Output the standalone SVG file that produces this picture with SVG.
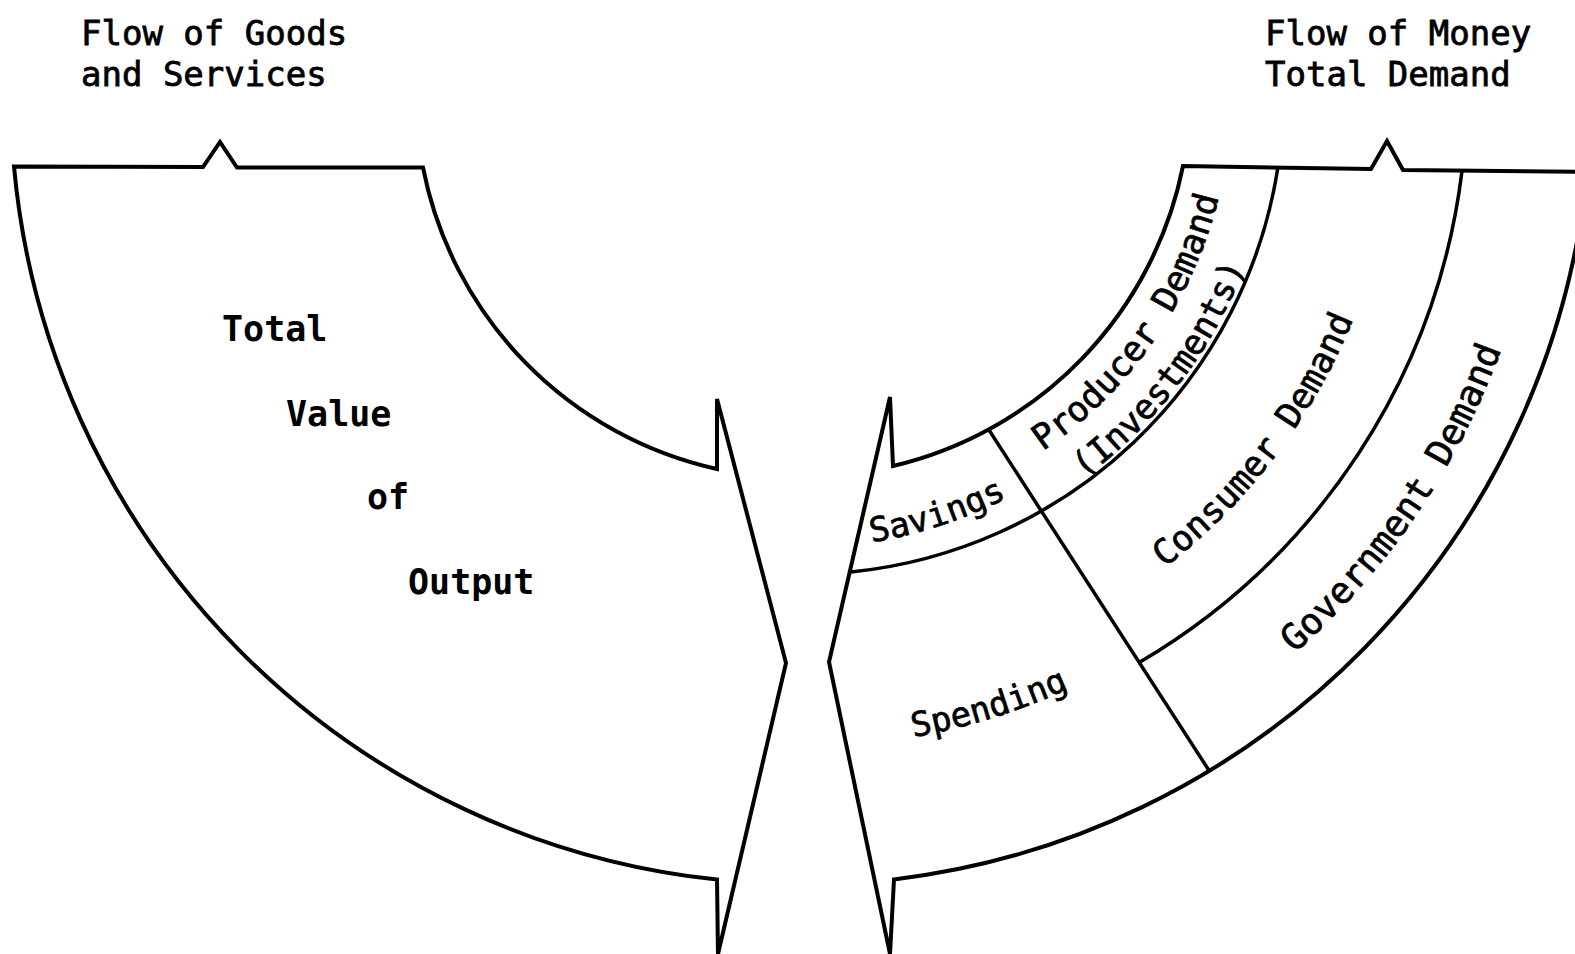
<svg xmlns="http://www.w3.org/2000/svg" xmlns:xlink="http://www.w3.org/1999/xlink" width="1575" height="954" viewBox="0 0 1575 954">
<style>
.shape{fill:#fff;stroke:#000;stroke-width:4;stroke-linejoin:miter;stroke-miterlimit:4}
.div{fill:none;stroke:#000;stroke-width:3.5}
.title{font-family:"DejaVu Sans Mono","Liberation Mono",monospace;font-size:34px;fill:#000;stroke:#000;stroke-width:0.8}
.big{font-family:"DejaVu Sans Mono","Liberation Mono",monospace;font-size:35px;font-weight:bold;fill:#000}
.lab{font-family:"DejaVu Sans Mono","Liberation Mono",monospace;font-size:34px;fill:#000;stroke:#000;stroke-width:0.7;text-anchor:middle}
</style>
<defs>
<path id="p-sav" d="M 497.6,432.3 A 453 453 0 0 0 1243.4,188"/>
<path id="p-spe" d="M 357,573.4 A 652 652 0 0 0 1435.8,239.4"/>
<path id="p-pro" d="M 764.7,524.5 A 431 431 0 0 0 1189.7,-89.2"/>
<path id="p-inv" d="M 739.4,568.1 A 477 477 0 0 0 1240,-89.1"/>
<path id="p-con" d="M 725.2,687.3 A 597 597 0 0 0 1350.4,-136.3"/>
<path id="p-gov" d="M 745.4,839 A 746 746 0 0 0 1471.6,-229.7"/>
</defs>
<rect width="1575" height="954" fill="#fff"/>
<g id="titles">
<text class="title" x="81" y="45">Flow of Goods</text>
<text class="title" x="81" y="86">and Services</text>
<text class="title" x="1265" y="45">Flow of Money</text>
<text class="title" x="1265" y="86">Total Demand</text>
</g>
<g id="goods-flow">
<path class="shape" d="M 14,166.5 L 203,167 L 220,142 L 237,167.5 L 423,167.5 A 384 384 0 0 0 717,469 L 717,399 L 786,663 L 718,954 L 717,879.6 A 789 789 0 0 1 14,166.5 Z"/>
<text class="big" x="222" y="341">Total</text>
<text class="big" x="286" y="426">Value</text>
<text class="big" x="367" y="509">of</text>
<text class="big" x="408" y="594">Output</text>
</g>
<g id="money-flow">
<path class="shape" d="M 1183,166 L 1371,169 L 1387,141 L 1403,170 L 1587,172 A 791 791 0 0 1 894,879.4 L 890,954 L 829,662 L 890,397 L 893,466 A 386 386 0 0 0 1183,166 Z"/>
</g>
<g id="connectors">
<path class="div" d="M 1278,167 A 481 481 0 0 1 851,572"/>
<path class="div" d="M 1462,171 A 664 664 0 0 1 1140,662"/>
<path class="div" d="M 989,430 L 1210,772"/>
</g>
<g id="savings"><text class="lab"><textPath href="#p-sav" xlink:href="#p-sav" startOffset="50%">Savings</textPath></text></g>
<g id="spending"><text class="lab"><textPath href="#p-spe" xlink:href="#p-spe" startOffset="50%">Spending</textPath></text></g>
<g id="producer-demand">
<text class="lab" style="font-size:35px"><textPath href="#p-pro" xlink:href="#p-pro" startOffset="50%">Producer Demand</textPath></text>
<text class="lab" style="font-size:34.5px"><textPath href="#p-inv" xlink:href="#p-inv" startOffset="50%">(Investments)</textPath></text>
</g>
<g id="consumer-demand"><text class="lab" style="font-size:35px"><textPath href="#p-con" xlink:href="#p-con" startOffset="50%">Consumer Demand</textPath></text></g>
<g id="government-demand"><text class="lab" style="font-size:36.3px"><textPath href="#p-gov" xlink:href="#p-gov" startOffset="50%">Government Demand</textPath></text></g>
</svg>
